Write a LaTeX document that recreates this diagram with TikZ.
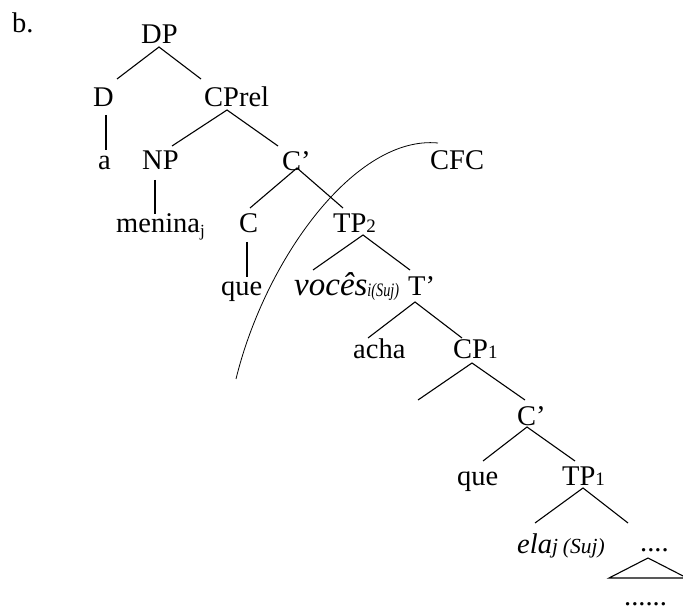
\documentclass[tikz,border=0pt]{standalone}
\usepackage{fontspec}
\setmainfont{Liberation Serif}
\usepackage{graphicx}
\newcommand\dig[1]{{\fontsize{19}{20}\selectfont #1}}
\newcommand\subsm[1]{{\fontsize{19}{20}\selectfont\itshape #1}}
\begin{document}
\begin{tikzpicture}[x=1pt,y=-1pt,
  lbl/.style={inner sep=0pt, anchor=base west, font=\fontsize{28.5}{34}\selectfont},
  br/.style={line width=1.1pt},
  cfcline/.style={line width=0.8pt}]
\useasboundingbox (0,0) rectangle (683,612);
% labels
\node[lbl] (b) at (12,33) {b.};
\node[lbl] (DP) at (141,44) {DP};
\node[lbl] (D) at (93,107) {D};
\node[lbl] (CPrel) at (204,107) {CPrel};
\node[lbl] (a) at (98,170) {a};
\node[lbl] (NP) at (142,170) {NP};
\node[lbl] (Cb1) at (282,171) {C’};
\node[lbl] (CFC) at (430,170) {CFC};
\node[lbl] (menina) at (116,233) {menina\raisebox{-4pt}{\fontsize{17}{18}\selectfont j}};
\node[lbl] (C) at (239,233) {C};
\node[lbl] (TP2) at (333,233) {TP\dig{2}};
\node[lbl] (que1) at (221,296) {que};
\node[lbl] (voces) at (294,296) {{\fontsize{33}{36}\selectfont\itshape vocês}\raisebox{-1pt}{\scalebox{0.75}[1]{\subsm{i(Suj)}}}};
\node[lbl] (Tb) at (408,296) {T’};
\node[lbl] (acha) at (353,359) {acha};
\node[lbl] (CP1) at (453,359) {CP\dig{1}};
\node[lbl] (Cb2) at (517,425) {C’};
\node[lbl] (que2) at (457,485) {que};
\node[lbl] (TP1) at (562,485) {TP\dig{1}};
\node[lbl] (ela) at (517,553) {\textit{ela}{\fontsize{21.5}{23}\selectfont\itshape j\hspace{5pt}(Suj)}};
\node[lbl] (dots1) at (640,551) {....};
\node[lbl] (dots2) at (624,605) {......};
% branch end points
\coordinate (DPb) at (159,47);
\coordinate (Dt) at (117,79);
\coordinate (CPrelt) at (201,79);
\coordinate (Db) at (106,115);
\coordinate (at) at (106,150);
\coordinate (CPrelb) at (227,110);
\coordinate (NPt) at (172,146);
\coordinate (Cb1t) at (278,146);
\coordinate (NPb) at (155,180);
\coordinate (meninat) at (155,214);
\coordinate (Cb1b) at (297,168);
\coordinate (Ct) at (250,208);
\coordinate (TP2t) at (343,208);
\coordinate (Cb) at (247,242);
\coordinate (que1t) at (247,277);
\coordinate (TP2b) at (363,235);
\coordinate (vocest) at (313,270);
\coordinate (Tbt) at (410,270);
\coordinate (Tbb) at (415,302);
\coordinate (achat) at (368,338);
\coordinate (CP1t) at (462,338);
\coordinate (CP1b) at (472,363);
\coordinate (spec) at (418,400);
\coordinate (Cb2t) at (525,400);
\coordinate (Cb2b) at (527,427);
\coordinate (que2t) at (483,461);
\coordinate (TP1t) at (575,461);
\coordinate (TP1b) at (583,488);
\coordinate (elat) at (535,523);
\coordinate (dotst) at (628,523);
\coordinate (triA) at (648,558);
\coordinate (triL) at (609,578);
\coordinate (triR) at (687,578);
\coordinate (arcS) at (236,379);
\coordinate (arcE) at (438,143);
% branches
\draw[br] (Dt) -- (DPb) -- (CPrelt);
\draw[br] (Db) -- (at);
\draw[br] (NPt) -- (CPrelb) -- (Cb1t);
\draw[br] (NPb) -- (meninat);
\draw[br] (Ct) -- (Cb1b) -- (TP2t);
\draw[br] (Cb) -- (que1t);
\draw[br] (vocest) -- (TP2b) -- (Tbt);
\draw[br] (achat) -- (Tbb) -- (CP1t);
\draw[br] (spec) -- (CP1b) -- (Cb2t);
\draw[br] (que2t) -- (Cb2b) -- (TP1t);
\draw[br] (elat) -- (TP1b) -- (dotst);
\begin{scope}
\clip (0,0) rectangle (683,612);
\draw[br] (triL) -- (triA) -- (triR) -- cycle;
\end{scope}
% CFC boundary curve
\draw[cfcline] (arcS) .. controls (265,260) and (355,135) .. (arcE);
\end{tikzpicture}
\end{document}
